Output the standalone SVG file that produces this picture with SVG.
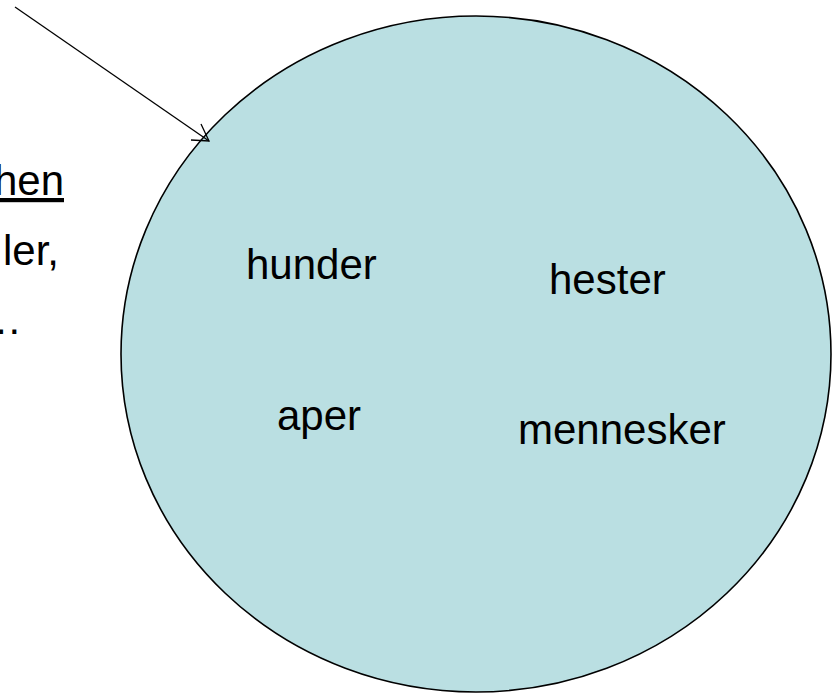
<svg xmlns="http://www.w3.org/2000/svg" width="837" height="693" viewBox="0 0 837 693">
<style>
.t{font-family:"Liberation Sans",Arial,sans-serif;font-size:42px;fill:#000}
</style>
<rect width="837" height="693" fill="#ffffff"/>
<g id="left-text">
<text class="t" x="64" y="195" text-anchor="end" text-decoration="underline">hen</text>
<text class="t" x="3" y="265">ler,</text>
<text class="t" x="-20" y="334">…</text>
</g>
<g id="set">
<ellipse cx="476" cy="354" rx="355" ry="338" fill="#BADFE2" stroke="#000" stroke-width="1.6"/>
<text class="t" x="246" y="279">hunder</text>
<text class="t" x="549" y="294">hester</text>
<text class="t" x="277" y="430">aper</text>
<text class="t" x="518" y="444">mennesker</text>
</g>
<g id="connectors" fill="none" stroke="#000" stroke-width="1.3">
<line x1="15" y1="7" x2="209" y2="141"/>
<polyline points="201,124 209,141 191,140"/>
</g>
</svg>
